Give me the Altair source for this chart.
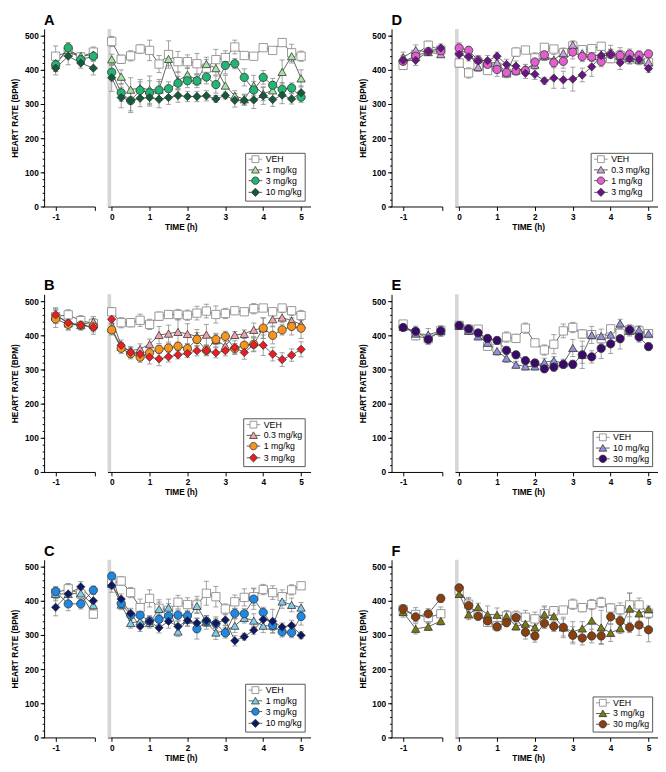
import altair as alt
import pandas as pd

FONT = "Liberation Sans"

T_PRE = [-1.0, -0.75, -0.5, -0.25]
T_POST = [0.0, 0.25, 0.5, 0.75, 1.0, 1.25, 1.5, 1.75, 2.0, 2.25, 2.5, 2.75,
          3.0, 3.25, 3.5, 3.75, 4.0, 4.25, 4.5, 4.75, 5.0]
Y_TICKS = [0, 100, 200, 300, 400, 500]
X_TICKS = [0, 1, 2, 3, 4, 5]

# ---- Panel A ----
A_NAMES = ["VEH", "1 mg/kg", "3 mg/kg", "10 mg/kg"]
A_VEH = [440, 452, 438, 452, 483, 431, 441, 461, 457, 417, 445, 424, 424, 418, 405, 430, 436, 467, 442, 440, 465, 457, 480, 450, 440]
A_VEH_SEM = [30, 15, 10, 15, 15, 12, 15, 12, 30, 25, 40, 30, 20, 30, 25, 30, 20, 20, 10, 10, 8, 8, 10, 25, 15]
A_1 = [420, 458, 440, 445, 431, 380, 342, 347, 342, 342, 432, 368, 386, 370, 417, 405, 354, 324, 314, 354, 330, 340, 394, 440, 375]
A_1_SEM = [25, 15, 10, 15, 15, 20, 35, 25, 40, 30, 20, 25, 20, 15, 20, 20, 30, 15, 15, 30, 20, 25, 35, 20, 25]
A_3 = [415, 465, 430, 440, 393, 333, 310, 340, 333, 341, 345, 361, 368, 368, 379, 357, 413, 418, 378, 341, 378, 355, 343, 347, 320]
A_3_SEM = [20, 15, 10, 12, 20, 25, 30, 25, 35, 25, 20, 20, 20, 20, 20, 25, 25, 15, 25, 25, 20, 20, 20, 15, 15]
A_10 = [405, 440, 420, 405, 377, 319, 310, 317, 319, 314, 319, 325, 322, 322, 324, 315, 325, 311, 311, 312, 324, 313, 326, 315, 333]
A_10_SEM = [20, 25, 15, 20, 40, 30, 35, 25, 25, 25, 20, 20, 15, 15, 15, 10, 10, 20, 15, 25, 25, 20, 25, 15, 20]

# ---- Panel B ----
B_NAMES = ["VEH", "0.3 mg/kg", "1 mg/kg", "3 mg/kg"]
B_VEH = [455, 460, 443, 435, 469, 437, 437, 444, 432, 456, 461, 461, 459, 465, 471, 461, 464, 472, 469, 478, 480, 469, 480, 472, 458]
B_VEH_SEM = [20, 15, 15, 15, 12, 15, 12, 18, 15, 12, 10, 15, 15, 20, 20, 25, 15, 10, 10, 15, 10, 10, 8, 10, 15]
B_03 = [460, 435, 430, 440, 420, 366, 355, 360, 374, 401, 405, 410, 404, 397, 402, 386, 369, 401, 404, 416, 421, 447, 452, 443, 432]
B_03_SEM = [20, 20, 15, 15, 15, 12, 12, 15, 15, 25, 25, 35, 30, 20, 30, 20, 20, 10, 12, 20, 30, 20, 15, 15, 15]
B_1 = [448, 432, 430, 425, 416, 362, 346, 336, 349, 359, 363, 368, 361, 388, 356, 388, 397, 361, 371, 374, 421, 400, 416, 426, 421]
B_1_SEM = [25, 15, 12, 15, 15, 15, 15, 15, 15, 12, 12, 12, 15, 20, 15, 15, 15, 15, 20, 20, 30, 25, 15, 25, 30]
B_3 = [460, 437, 430, 423, 447, 371, 350, 345, 336, 331, 337, 343, 347, 355, 355, 349, 355, 364, 350, 372, 371, 345, 329, 342, 359]
B_3_SEM = [20, 12, 12, 20, 12, 15, 15, 18, 20, 20, 15, 12, 12, 15, 15, 15, 15, 20, 20, 20, 30, 20, 20, 18, 22]

# ---- Panel C ----
C_NAMES = ["VEH", "1 mg/kg", "3 mg/kg", "10 mg/kg"]
C_VEH = [423, 435, 420, 361, 452, 458, 424, 380, 407, 378, 372, 396, 389, 388, 422, 412, 376, 397, 410, 412, 433, 424, 412, 432, 444]
C_VEH_SEM = [15, 15, 15, 12, 15, 12, 15, 25, 25, 25, 20, 20, 20, 25, 35, 30, 15, 20, 25, 25, 15, 20, 20, 15, 10]
C_1 = [420, 420, 422, 387, 450, 389, 335, 340, 335, 376, 380, 310, 345, 385, 337, 307, 312, 327, 350, 342, 327, 327, 398, 388, 380]
C_1_SEM = [20, 25, 20, 15, 15, 15, 15, 15, 15, 20, 25, 15, 20, 20, 20, 20, 15, 20, 15, 20, 20, 20, 20, 20, 15]
C_3 = [427, 391, 391, 431, 472, 392, 358, 358, 341, 346, 355, 358, 356, 318, 340, 333, 306, 363, 362, 405, 366, 328, 309, 307, 354]
C_3_SEM = [15, 20, 15, 12, 12, 15, 15, 20, 15, 15, 20, 15, 15, 30, 15, 20, 15, 15, 15, 30, 15, 15, 15, 15, 25]
C_10 = [381, 420, 441, 400, 445, 405, 363, 325, 340, 321, 340, 325, 342, 335, 342, 334, 344, 283, 295, 314, 345, 340, 323, 328, 299]
C_10_SEM = [25, 30, 15, 20, 20, 15, 15, 15, 15, 15, 20, 15, 15, 15, 15, 15, 15, 15, 10, 12, 20, 35, 12, 15, 10]

# ---- Panel D ----
D_NAMES = ["VEH", "0.3 mg/kg", "1 mg/kg", "3 mg/kg"]
D_VEH = [413, 445, 472, 458, 420, 391, 412, 398, 408, 390, 452, 458, 435, 466, 461, 450, 470, 459, 462, 469, 433, 442, 432, 430, 422]
D_VEH_SEM = [12, 10, 12, 10, 12, 15, 15, 10, 12, 12, 12, 10, 15, 10, 10, 10, 10, 10, 10, 10, 12, 15, 12, 12, 15]
D_03 = [437, 458, 452, 446, 458, 448, 408, 420, 421, 392, 398, 404, 415, 440, 430, 449, 473, 449, 440, 445, 452, 440, 435, 430, 423]
D_03_SEM = [15, 15, 10, 10, 15, 12, 12, 12, 12, 12, 12, 12, 12, 12, 15, 15, 12, 12, 15, 15, 20, 25, 15, 15, 15]
D_1 = [425, 440, 454, 456, 464, 457, 428, 416, 401, 392, 397, 398, 423, 444, 421, 425, 452, 439, 438, 424, 445, 442, 446, 443, 447]
D_1_SEM = [15, 15, 12, 12, 15, 12, 12, 12, 20, 15, 12, 12, 15, 15, 12, 20, 20, 15, 12, 15, 15, 15, 15, 12, 10]
D_3 = [428, 428, 454, 464, 445, 438, 427, 427, 440, 416, 411, 390, 387, 368, 376, 371, 373, 385, 409, 442, 445, 421, 432, 430, 404]
D_3_SEM = [15, 15, 12, 12, 15, 12, 15, 15, 12, 15, 15, 15, 15, 10, 30, 25, 35, 20, 28, 15, 15, 20, 15, 12, 12]

# ---- Panel E ----
E_NAMES = ["VEH", "10 mg/kg", "30 mg/kg"]
E_VEH = [433, 399, 390, 414, 429, 418, 418, 368, 362, 395, 391, 421, 378, 357, 374, 413, 423, 404, 402, 390, 419, 406, 416, 413, 405]
E_VEH_SEM = [10, 12, 12, 12, 10, 10, 10, 10, 15, 15, 12, 15, 10, 15, 28, 20, 15, 12, 12, 12, 10, 12, 10, 12, 10]
E_10 = [425, 405, 402, 412, 428, 413, 397, 378, 354, 333, 314, 309, 309, 321, 326, 318, 363, 343, 401, 398, 402, 435, 413, 416, 405]
E_10_SEM = [10, 12, 18, 15, 10, 10, 10, 12, 12, 12, 10, 10, 10, 12, 12, 12, 25, 40, 25, 20, 20, 12, 15, 12, 10]
E_30 = [423, 412, 388, 413, 429, 419, 407, 391, 385, 356, 343, 326, 319, 302, 307, 315, 315, 343, 337, 362, 375, 390, 416, 395, 367]
E_30_SEM = [10, 15, 15, 15, 10, 10, 10, 10, 10, 10, 10, 10, 10, 10, 12, 12, 12, 25, 18, 30, 28, 30, 15, 15, 10]

# ---- Panel F ----
F_NAMES = ["VEH", "3 mg/kg", "30 mg/kg"]
F_VEH = [374, 360, 351, 362, 430, 390, 360, 337, 327, 356, 355, 352, 347, 362, 371, 373, 390, 380, 389, 395, 379, 374, 388, 388, 364]
F_VEH_SEM = [15, 20, 15, 20, 10, 20, 15, 12, 12, 15, 15, 20, 20, 20, 12, 10, 15, 12, 15, 15, 12, 20, 35, 20, 15]
F_3 = [367, 318, 324, 341, 420, 360, 381, 360, 359, 355, 325, 333, 322, 360, 355, 322, 309, 319, 342, 322, 306, 319, 377, 363, 375]
F_3_SEM = [15, 15, 10, 12, 10, 15, 12, 25, 20, 15, 10, 12, 15, 25, 20, 30, 30, 20, 45, 50, 25, 15, 45, 25, 10]
F_30 = [376, 353, 362, 407, 438, 386, 355, 341, 324, 336, 351, 308, 297, 334, 325, 322, 299, 291, 297, 297, 353, 341, 322, 329, 315]
F_30_SEM = [12, 15, 15, 12, 10, 20, 12, 12, 12, 12, 12, 20, 18, 15, 15, 25, 25, 20, 20, 22, 20, 18, 15, 30, 35]

SH4 = ["square", "triangle-up", "circle", "diamond"]
SH3 = ["square", "triangle-up", "circle"]
A_FILL = ["white", "#a6e3a1", "#22b573", "#125c3a"]
B_FILL = ["white", "#eea3a8", "#f7941d", "#ed1c24"]
C_FILL = ["white", "#80cbe8", "#1e88e5", "#0b1a66"]
D_FILL = ["white", "#c9a3dc", "#e35fd0", "#6b1387"]
E_FILL = ["white", "#9191d9", "#3a0a6b"]
F_FILL = ["white", "#7a7a10", "#8c3f0e"]

LEGEND_PATH = {
    "square": "M-1.75,0H-0.875M0.875,0H1.75M-0.875,-0.875H0.875V0.875H-0.875Z",
    "triangle-up": "M-1.75,0H-0.53M0.53,0H1.75M0,-0.9L1,0.8H-1Z",
    "circle": "M-1.75,0H-0.95M0.95,0H1.75M-0.95,0A0.95,0.95,0,1,0,0.95,0A0.95,0.95,0,1,0,-0.95,0Z",
    "diamond": "M-1.75,0H-1.05M1.05,0H1.75M0,-1.05L1.05,0L0,1.05L-1.05,0Z",
}

Y_DOMAIN = [0, 520]
PRE_DOMAIN = [-1.23, -0.22]
POST_DOMAIN = [-0.11, 5.25]
BAND = pd.DataFrame({"x0": [-0.11], "x1": [-0.015], "y0": [0], "y1": [520]})

PRE_W, POST_W, H = 52, 208, 182
ERR = "#8a8a8a"
LINE = "#3a3a3a"
SIZE = 72
IND = dict(shape="independent", fill="independent", stroke="independent")


def build_panel(letter, names, shapes, fills, means, sems):
    strokes = ["#808080"] + ["#333333"] * (len(names) - 1)
    rows = []
    for name, m, s in zip(names, means, sems):
        for t, v, e in zip(T_PRE + T_POST, m, s):
            rows.append({"series": name, "time": t, "mean": v, "lo": v - e, "hi": v + e})
    df = pd.DataFrame(rows)
    pre = df[df.time < 0]
    post = df[df.time >= 0]
    ys = alt.Scale(domain=Y_DOMAIN, nice=False, zero=False)

    def core(d, xenc, yaxis):
        def y(f):
            return alt.Y(f"{f}:Q", scale=ys, axis=yaxis)
        err = alt.Chart(d).mark_rule(color=ERR, strokeWidth=0.8).encode(
            x=xenc, y=y("lo"), y2="hi:Q")
        cap_lo = alt.Chart(d).mark_point(shape="stroke", size=28, color=ERR, strokeWidth=0.8,
                                         opacity=1, filled=False).encode(x=xenc, y=y("lo"))
        cap_hi = alt.Chart(d).mark_point(shape="stroke", size=28, color=ERR, strokeWidth=0.8,
                                         opacity=1, filled=False).encode(x=xenc, y=y("hi"))
        line = alt.Chart(d).mark_line(color=LINE, strokeWidth=0.8).encode(
            x=xenc, y=y("mean"), detail="series:N", order="time:Q")
        pts = alt.Chart(d).mark_point(filled=True, size=SIZE, strokeWidth=0.8, opacity=1).encode(
            x=xenc, y=y("mean"),
            shape=alt.Shape("series:N", scale=alt.Scale(domain=names, range=shapes), legend=None),
            fill=alt.Fill("series:N", scale=alt.Scale(domain=names, range=fills), legend=None),
            stroke=alt.Stroke("series:N", scale=alt.Scale(domain=names, range=strokes), legend=None),
        )
        return [err, cap_lo, cap_hi, line, pts]

    # pre-dose segment
    x_pre_axis = alt.Axis(values=[-1, -0.22], labelExpr="datum.value == -1 ? '-1' : ''",
                          title=None, labelFlush=False)
    x_pre = alt.X("time:Q", scale=alt.Scale(domain=PRE_DOMAIN, nice=False, zero=False), axis=x_pre_axis)
    y_major = alt.Axis(values=Y_TICKS, title="HEART RATE (BPM)", orient="left")
    minor = alt.Chart(pre).mark_point(opacity=0).encode(
        x=x_pre,
        y=alt.Y("mean:Q", scale=ys, axis=alt.Axis(values=list(range(0, 520, 20)), labels=False,
                                                  tickSize=2, domain=False, title=None, orient="left")))
    left = alt.layer(minor, alt.layer(*core(pre, x_pre, y_major))).resolve_axis(
        y="independent").properties(width=PRE_W, height=H)

    # post-dose segment
    x_post_axis = alt.Axis(values=X_TICKS, format="d", title="TIME (h)", titleX=75, labelFlush=False)
    xs_post = alt.Scale(domain=POST_DOMAIN, nice=False, zero=False)
    x_post = alt.X("time:Q", scale=xs_post, axis=x_post_axis)
    band = alt.Chart(BAND).mark_rect(color="#d6d6d6").encode(
        x=alt.X("x0:Q", scale=xs_post, axis=x_post_axis), x2="x1:Q",
        y=alt.Y("y0:Q", scale=ys, axis=None), y2="y1:Q")
    leg = alt.Legend(title=None, orient="bottom-right", offset=6, padding=2, strokeColor="#555555",
                     fillColor="white", labelFont=FONT, labelFontSize=9, labelColor="black",
                     labelFontWeight="normal", symbolSize=64, symbolStrokeWidth=0.8,
                     symbolOffset=4, labelOffset=6, rowPadding=0, cornerRadius=0)
    hidden = alt.Chart(post).transform_filter("datum.time < -100").mark_point(
        filled=True, size=64, strokeWidth=0.8, opacity=1).encode(
        x=x_post, y=alt.Y("mean:Q", scale=ys, axis=None),
        shape=alt.Shape("series:N", scale=alt.Scale(domain=names, range=[LEGEND_PATH[s] for s in shapes]), legend=leg),
        fill=alt.Fill("series:N", scale=alt.Scale(domain=names, range=fills), legend=leg),
        stroke=alt.Stroke("series:N", scale=alt.Scale(domain=names, range=strokes), legend=leg),
    )
    right = alt.layer(band, *core(post, x_post, None), hidden).resolve_scale(
        **IND).properties(width=POST_W, height=H)

    return alt.hconcat(left, right, spacing=6,
                       title=alt.TitleParams(letter, anchor="start", dx=34, offset=1, fontSize=15,
                                             fontWeight="bold", font=FONT, color="black")
                       ).resolve_scale(**IND)


pA = build_panel("A", A_NAMES, SH4, A_FILL, [A_VEH, A_1, A_3, A_10], [A_VEH_SEM, A_1_SEM, A_3_SEM, A_10_SEM])
pB = build_panel("B", B_NAMES, SH4, B_FILL, [B_VEH, B_03, B_1, B_3], [B_VEH_SEM, B_03_SEM, B_1_SEM, B_3_SEM])
pC = build_panel("C", C_NAMES, SH4, C_FILL, [C_VEH, C_1, C_3, C_10], [C_VEH_SEM, C_1_SEM, C_3_SEM, C_10_SEM])
pD = build_panel("D", D_NAMES, SH4, D_FILL, [D_VEH, D_03, D_1, D_3], [D_VEH_SEM, D_03_SEM, D_1_SEM, D_3_SEM])
pE = build_panel("E", E_NAMES, SH3, E_FILL, [E_VEH, E_10, E_30], [E_VEH_SEM, E_10_SEM, E_30_SEM])
pF = build_panel("F", F_NAMES, SH3, F_FILL, [F_VEH, F_3, F_30], [F_VEH_SEM, F_3_SEM, F_30_SEM])

chart = alt.vconcat(
    alt.hconcat(pA, pD, spacing=48).resolve_scale(**IND),
    alt.hconcat(pB, pE, spacing=48).resolve_scale(**IND),
    alt.hconcat(pC, pF, spacing=48).resolve_scale(**IND),
    spacing=49,
    padding={"top": -4, "left": 2, "right": 0, "bottom": 0},
).resolve_scale(**IND).configure_view(stroke=None).configure_axis(
    domainColor="black", domainWidth=1, tickColor="black", tickWidth=1, tickSize=4,
    labelFont=FONT, labelFontSize=8.5, labelFontWeight="bold", labelColor="black", labelPadding=2,
    titleFont=FONT, titleFontSize=8.5, titleFontWeight="bold", titleColor="black", grid=False,
).configure_axisY(titlePadding=5).configure_axisX(titlePadding=2)

chart.save("out.html", embed_options={"renderer": "svg", "actions": False})
